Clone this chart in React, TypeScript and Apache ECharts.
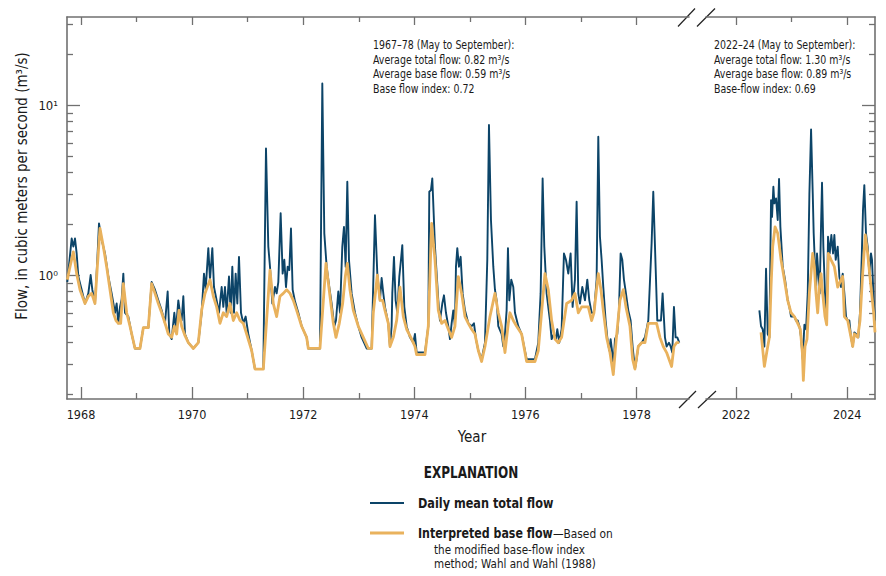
import React, { useEffect, useRef } from "react";
import * as echarts from "echarts";

// ---------------- DATA ----------------
// Daily mean total flow, May–September 1967–78 ([decimal year, m3/s])
const totalFlow1967to78: [number, number][] = [
  [1967.754, 0.91], [1967.832, 1.64], [1967.862, 1.47], [1967.892, 1.64], [1967.922, 1.34], [1967.952, 0.98],
  [1968.012, 0.82], [1968.072, 0.68], [1968.132, 0.78], [1968.174, 1.0], [1968.204, 0.82], [1968.252, 0.68],
  [1968.294, 1.23], [1968.324, 2.01], [1968.372, 1.61], [1968.432, 1.34], [1968.492, 0.98], [1968.552, 0.78],
  [1968.612, 0.6], [1968.642, 0.68], [1968.672, 0.52], [1968.702, 0.65], [1968.732, 0.72], [1968.762, 1.02],
  [1968.792, 0.6], [1968.852, 0.57], [1968.912, 0.45], [1968.972, 0.37], [1969.062, 0.37], [1969.122, 0.49],
  [1969.212, 0.49], [1969.272, 0.91], [1969.332, 0.82], [1969.392, 0.71], [1969.452, 0.62], [1969.512, 0.52],
  [1969.56, 0.8], [1969.59, 0.45], [1969.632, 0.42], [1969.68, 0.6], [1969.71, 0.48], [1969.752, 0.71],
  [1969.782, 0.6], [1969.812, 0.54], [1969.842, 0.75], [1969.872, 0.45], [1969.932, 0.4], [1970.022, 0.37],
  [1970.112, 0.4], [1970.172, 0.6], [1970.214, 1.02], [1970.244, 0.82], [1970.292, 1.44], [1970.322, 0.94],
  [1970.364, 1.44], [1970.394, 0.85], [1970.442, 0.71], [1970.484, 0.6], [1970.532, 0.85], [1970.562, 0.65],
  [1970.592, 0.85], [1970.622, 0.6], [1970.664, 0.98], [1970.694, 0.6], [1970.724, 1.12], [1970.754, 0.6],
  [1970.784, 1.02], [1970.814, 0.68], [1970.844, 1.28], [1970.88, 0.6], [1970.922, 0.52], [1970.964, 0.57],
  [1971.012, 0.45], [1971.072, 0.36], [1971.132, 0.28], [1971.282, 0.28], [1971.33, 5.56], [1971.372, 1.47],
  [1971.402, 1.12], [1971.444, 0.68], [1971.492, 0.85], [1971.522, 0.78], [1971.552, 0.91], [1971.594, 2.31],
  [1971.63, 1.02], [1971.66, 1.23], [1971.69, 0.85], [1971.72, 1.12], [1971.75, 1.07], [1971.78, 1.88],
  [1971.81, 0.82], [1971.852, 0.7], [1971.912, 0.6], [1971.972, 0.5], [1972.062, 0.43], [1972.092, 0.37],
  [1972.302, 0.37], [1972.344, 13.4], [1972.38, 1.76], [1972.422, 1.12], [1972.47, 0.85], [1972.512, 0.68],
  [1972.56, 0.5], [1972.59, 0.54], [1972.632, 0.8], [1972.662, 0.6], [1972.704, 1.47], [1972.734, 1.92],
  [1972.764, 1.12], [1972.794, 3.54], [1972.824, 1.23], [1972.872, 0.78], [1972.932, 0.6], [1972.992, 0.5],
  [1973.052, 0.43], [1973.142, 0.37], [1973.232, 0.37], [1973.292, 2.25], [1973.334, 1.02], [1973.382, 0.71],
  [1973.412, 0.96], [1973.442, 0.78], [1973.472, 0.65], [1973.532, 0.52], [1973.562, 0.38], [1973.592, 0.5],
  [1973.604, 0.78], [1973.634, 1.28], [1973.664, 0.71], [1973.694, 0.6], [1973.73, 0.98], [1973.76, 1.23],
  [1973.784, 1.5], [1973.82, 0.65], [1973.862, 0.5], [1973.922, 0.43], [1973.982, 0.4], [1974.012, 0.45],
  [1974.042, 0.35], [1974.192, 0.35], [1974.252, 0.5], [1974.27, 3.09], [1974.3, 3.16], [1974.324, 3.7],
  [1974.372, 1.47], [1974.432, 0.71], [1974.462, 0.54], [1974.504, 0.68], [1974.534, 0.76], [1974.57, 0.6],
  [1974.612, 0.5], [1974.642, 0.42], [1974.672, 0.52], [1974.702, 0.62], [1974.732, 0.5], [1974.75, 1.12],
  [1974.774, 1.44], [1974.804, 1.12], [1974.834, 1.28], [1974.87, 0.78], [1974.912, 0.62], [1974.972, 0.52],
  [1975.032, 0.5], [1975.074, 0.52], [1975.11, 0.42], [1975.152, 0.36], [1975.212, 0.32], [1975.272, 0.4],
  [1975.314, 1.23], [1975.344, 7.63], [1975.38, 2.11], [1975.422, 1.12], [1975.452, 0.82], [1975.482, 0.71],
  [1975.512, 0.5], [1975.572, 0.45], [1975.602, 0.38], [1975.632, 0.45], [1975.662, 0.62], [1975.686, 1.44],
  [1975.71, 0.71], [1975.746, 0.94], [1975.782, 0.85], [1975.812, 0.6], [1975.872, 0.5], [1975.932, 0.45],
  [1976.022, 0.32], [1976.172, 0.32], [1976.232, 0.4], [1976.274, 0.78], [1976.31, 3.7], [1976.34, 1.47],
  [1976.382, 0.78], [1976.442, 0.54], [1976.472, 0.42], [1976.514, 0.45], [1976.55, 0.42], [1976.574, 0.48],
  [1976.61, 0.4], [1976.652, 0.48], [1976.694, 1.34], [1976.73, 1.23], [1976.772, 1.02], [1976.814, 1.34],
  [1976.85, 0.65], [1976.892, 0.94], [1976.922, 2.7], [1976.952, 0.78], [1976.982, 0.68], [1977.024, 0.85],
  [1977.072, 0.71], [1977.114, 0.94], [1977.15, 0.71], [1977.192, 0.6], [1977.234, 0.6], [1977.282, 0.94],
  [1977.312, 6.51], [1977.342, 1.68], [1977.372, 1.23], [1977.402, 0.85], [1977.444, 0.54], [1977.474, 0.43],
  [1977.51, 0.36], [1977.534, 0.42], [1977.564, 0.35], [1977.582, 0.27], [1977.612, 0.42], [1977.654, 0.45],
  [1977.684, 0.62], [1977.714, 1.34], [1977.744, 1.23], [1977.774, 0.94], [1977.81, 0.78], [1977.852, 0.62],
  [1977.894, 0.54], [1977.93, 0.38], [1977.972, 0.28], [1978.002, 0.32], [1978.032, 0.38], [1978.092, 0.4],
  [1978.152, 0.43], [1978.212, 0.54], [1978.272, 1.54], [1978.302, 3.09], [1978.344, 1.12], [1978.374, 0.54],
  [1978.41, 0.54], [1978.44, 0.54], [1978.47, 0.78], [1978.512, 0.43], [1978.542, 0.38], [1978.584, 0.4],
  [1978.614, 0.38], [1978.644, 0.35], [1978.674, 0.65], [1978.704, 0.43], [1978.734, 0.43], [1978.77, 0.4],
];

// Interpreted base flow, 1967–78
const baseFlow1967to78: [number, number][] = [
  [1967.754, 0.94], [1967.802, 1.12], [1967.862, 1.37], [1967.922, 1.02], [1967.982, 0.82], [1968.072, 0.68],
  [1968.132, 0.75], [1968.192, 0.78], [1968.252, 0.68], [1968.294, 1.12], [1968.342, 1.88], [1968.402, 1.47],
  [1968.462, 1.12], [1968.522, 0.82], [1968.582, 0.6], [1968.63, 0.54], [1968.672, 0.52], [1968.714, 0.52],
  [1968.762, 0.89], [1968.822, 0.6], [1968.882, 0.5], [1968.972, 0.37], [1969.062, 0.37], [1969.122, 0.49],
  [1969.212, 0.49], [1969.272, 0.89], [1969.332, 0.78], [1969.392, 0.68], [1969.452, 0.6], [1969.53, 0.5],
  [1969.572, 0.45], [1969.632, 0.43], [1969.68, 0.5], [1969.722, 0.45], [1969.764, 0.62], [1969.812, 0.5],
  [1969.872, 0.44], [1969.932, 0.4], [1970.022, 0.37], [1970.112, 0.4], [1970.172, 0.62], [1970.232, 0.78],
  [1970.322, 0.94], [1970.382, 0.75], [1970.442, 0.65], [1970.502, 0.52], [1970.562, 0.6], [1970.622, 0.57],
  [1970.682, 0.68], [1970.742, 0.54], [1970.802, 0.6], [1970.862, 0.54], [1970.922, 0.52], [1970.982, 0.45],
  [1971.072, 0.36], [1971.132, 0.28], [1971.282, 0.28], [1971.402, 1.07], [1971.462, 0.68], [1971.522, 0.57],
  [1971.582, 0.75], [1971.642, 0.78], [1971.702, 0.82], [1971.762, 0.78], [1971.822, 0.71], [1971.882, 0.62],
  [1971.972, 0.5], [1972.062, 0.43], [1972.092, 0.37], [1972.302, 0.37], [1972.41, 1.17], [1972.482, 0.75],
  [1972.542, 0.52], [1972.59, 0.43], [1972.65, 0.52], [1972.71, 0.68], [1972.758, 0.98], [1972.794, 1.17],
  [1972.842, 0.82], [1972.902, 0.62], [1972.992, 0.5], [1973.082, 0.43], [1973.172, 0.37], [1973.232, 0.37],
  [1973.262, 0.6], [1973.334, 1.0], [1973.382, 0.71], [1973.43, 0.71], [1973.472, 0.62], [1973.532, 0.52],
  [1973.562, 0.38], [1973.622, 0.43], [1973.682, 0.54], [1973.742, 0.85], [1973.802, 0.57], [1973.862, 0.48],
  [1973.952, 0.42], [1974.012, 0.38], [1974.042, 0.34], [1974.192, 0.34], [1974.252, 0.5], [1974.312, 2.01],
  [1974.372, 1.23], [1974.432, 0.62], [1974.492, 0.52], [1974.552, 0.54], [1974.612, 0.48], [1974.672, 0.43],
  [1974.732, 0.5], [1974.792, 0.98], [1974.852, 0.78], [1974.912, 0.57], [1974.972, 0.52], [1975.032, 0.48],
  [1975.092, 0.45], [1975.152, 0.36], [1975.212, 0.31], [1975.272, 0.38], [1975.362, 0.57], [1975.452, 0.78],
  [1975.512, 0.6], [1975.572, 0.5], [1975.632, 0.35], [1975.692, 0.52], [1975.722, 0.6], [1975.782, 0.54],
  [1975.842, 0.5], [1975.932, 0.45], [1976.022, 0.31], [1976.172, 0.31], [1976.232, 0.36], [1976.352, 1.02],
  [1976.412, 0.82], [1976.472, 0.54], [1976.532, 0.42], [1976.592, 0.4], [1976.652, 0.43], [1976.742, 0.68],
  [1976.832, 0.71], [1976.892, 0.78], [1976.952, 0.6], [1977.012, 0.65], [1977.072, 0.65], [1977.132, 0.65],
  [1977.192, 0.54], [1977.234, 0.6], [1977.312, 1.02], [1977.36, 0.82], [1977.402, 0.62], [1977.462, 0.43],
  [1977.522, 0.35], [1977.582, 0.26], [1977.63, 0.4], [1977.702, 0.71], [1977.762, 0.82], [1977.81, 0.65],
  [1977.882, 0.5], [1977.93, 0.32], [1977.972, 0.28], [1978.032, 0.38], [1978.092, 0.4], [1978.152, 0.4],
  [1978.212, 0.52], [1978.302, 0.52], [1978.362, 0.52], [1978.422, 0.43], [1978.482, 0.38], [1978.542, 0.35],
  [1978.632, 0.29], [1978.674, 0.38], [1978.722, 0.4], [1978.77, 0.4],
];

// Daily mean total flow, 2022–24
const totalFlow2022to24: [number, number][] = [
  [2022.42, 0.62], [2022.45, 0.5], [2022.48, 0.48], [2022.51, 0.38], [2022.54, 1.09], [2022.57, 0.45],
  [2022.6, 0.43], [2022.63, 2.76], [2022.648, 2.2], [2022.672, 3.31], [2022.69, 2.64], [2022.72, 2.82],
  [2022.75, 2.11], [2022.774, 3.67], [2022.798, 1.92], [2022.84, 1.12], [2022.882, 0.94], [2022.93, 0.71],
  [2022.96, 0.65], [2022.99, 0.57], [2023.05, 0.57], [2023.08, 0.54], [2023.11, 0.54], [2023.14, 0.5],
  [2023.17, 0.43], [2023.2, 0.32], [2023.23, 0.51], [2023.26, 0.48], [2023.29, 0.78], [2023.32, 3.02],
  [2023.35, 7.19], [2023.38, 3.02], [2023.397, 1.76], [2023.421, 1.12], [2023.439, 0.78], [2023.457, 1.34],
  [2023.481, 1.02], [2023.505, 0.78], [2023.529, 1.92], [2023.547, 3.49], [2023.571, 1.47], [2023.601, 0.78],
  [2023.631, 0.52], [2023.655, 1.68], [2023.685, 1.34], [2023.715, 1.72], [2023.745, 1.34], [2023.769, 1.72],
  [2023.793, 1.23], [2023.829, 1.47], [2023.859, 0.98], [2023.889, 0.85], [2023.919, 1.02], [2023.949, 0.78],
  [2023.979, 0.57], [2024.009, 0.54], [2024.039, 0.54], [2024.069, 0.43], [2024.099, 0.38], [2024.129, 0.46],
  [2024.159, 0.45], [2024.2, 0.43], [2024.23, 0.6], [2024.26, 1.23], [2024.284, 2.41], [2024.308, 3.38],
  [2024.338, 1.76], [2024.368, 1.47], [2024.398, 1.02], [2024.428, 1.34], [2024.446, 1.23], [2024.476, 0.71],
  [2024.5, 0.54],
];

// Interpreted base flow, 2022–24
const baseFlow2022to24: [number, number][] = [
  [2022.45, 0.46], [2022.51, 0.29], [2022.558, 0.36], [2022.6, 0.43], [2022.63, 0.85], [2022.66, 1.47],
  [2022.702, 1.92], [2022.75, 1.76], [2022.81, 1.23], [2022.87, 0.94], [2022.93, 0.71], [2022.99, 0.6],
  [2023.05, 0.57], [2023.11, 0.52], [2023.157, 0.48], [2023.193, 0.35], [2023.211, 0.24], [2023.241, 0.38],
  [2023.277, 0.42], [2023.319, 0.78], [2023.379, 1.34], [2023.409, 1.12], [2023.439, 0.78], [2023.469, 0.6],
  [2023.499, 0.85], [2023.529, 1.02], [2023.559, 0.78], [2023.601, 0.57], [2023.631, 0.51], [2023.661, 1.34],
  [2023.709, 1.23], [2023.769, 1.12], [2023.829, 0.85], [2023.889, 0.94], [2023.919, 0.98], [2023.949, 0.57],
  [2024.009, 0.54], [2024.069, 0.43], [2024.099, 0.38], [2024.129, 0.45], [2024.189, 0.43], [2024.23, 0.54],
  [2024.278, 1.02], [2024.326, 1.72], [2024.368, 1.34], [2024.428, 0.85], [2024.476, 0.6], [2024.5, 0.46],
];

// Axis ticks / ranges
const yRange = [0.1866, 32.96];
const yMajorTicks = [1, 10];
const yMinorTicks = [0.2, 0.3, 0.4, 0.5, 0.6, 0.7, 0.8, 0.9, 2, 3, 4, 5, 6, 7, 8, 9, 20, 30];
const xRangeEarly = [1967.748, 1978.945];
const xRangeRecent = [2021.46, 2024.5];
const xMajorTicksEarly = [1968, 1970, 1972, 1974, 1976, 1978];
const xMinorTicksEarly = [1969, 1971, 1973, 1975, 1977];
const xMajorTicksRecent = [2022, 2024];
const xMinorTicksRecent = [2023];

const supDigits: Record<string, string> = { "0": "⁰", "1": "¹", "2": "²", "3": "³" };

// ---------------- STYLE ----------------
const FONT = "'Liberation Sans Narrow', 'Arial Narrow', 'DejaVu Sans Condensed', 'Liberation Sans', sans-serif";
const AXIS = "#707070";
const BLUE = "#0c4468";
const ORANGE = "#e9b25d";
const TEXT = "#1a1a1a";

const GRID_TOP = 17;
const GRID_BOTTOM = 399;
const L_LEFT = 67;
const L_RIGHT = 689;
const R_LEFT = 706;
const R_RIGHT = 875;

function makeXAxes(gridIndex: number, range: number[], major: number[], minor: number[]) {
  const base = {
    type: "value" as const,
    gridIndex,
    min: range[0],
    max: range[1],
    splitLine: { show: false },
  };
  const line = { show: true, onZero: false, lineStyle: { color: AXIS, width: 1.6 } };
  const noLine = { show: false, onZero: false };
  return [
    {
      ...base, position: "bottom", axisLine: line,
      axisTick: { show: true, inside: true, length: 12, customValues: major, lineStyle: { color: AXIS, width: 1.3 } },
      axisLabel: { show: true, customValues: major, margin: 9, fontSize: 12.5, fontFamily: FONT, color: TEXT, formatter: (v: number) => String(Math.round(v)) },
    },
    {
      ...base, position: "bottom", axisLine: noLine,
      axisTick: { show: true, inside: true, length: 6, customValues: minor, lineStyle: { color: AXIS, width: 1.3 } },
      axisLabel: { show: false },
    },
    {
      ...base, position: "top", axisLine: line,
      axisTick: { show: true, inside: true, length: 8, customValues: major, lineStyle: { color: AXIS, width: 1.3 } },
      axisLabel: { show: false },
    },
    {
      ...base, position: "top", axisLine: noLine,
      axisTick: { show: true, inside: true, length: 5, customValues: minor, lineStyle: { color: AXIS, width: 1.3 } },
      axisLabel: { show: false },
    },
  ];
}

function makeYAxes(gridIndex: number, position: "left" | "right", labels: boolean) {
  const base = {
    type: "log" as const,
    logBase: 10,
    gridIndex,
    position,
    min: yRange[0],
    max: yRange[1],
    splitLine: { show: false },
  };
  return [
    {
      ...base,
      axisLine: { show: true, onZero: false, lineStyle: { color: AXIS, width: 1.6 } },
      axisTick: { show: true, inside: true, length: 13, customValues: yMajorTicks, lineStyle: { color: AXIS, width: 1.3 } },
      axisLabel: {
        show: labels, customValues: yMajorTicks, margin: 9, fontSize: 13, fontFamily: FONT, color: TEXT,
        formatter: (v: number) => "10" + (supDigits[String(Math.round(Math.log10(v)))] || ""),
      },
    },
    {
      ...base,
      axisLine: { show: false, onZero: false },
      axisTick: { show: true, inside: true, length: 6, customValues: yMinorTicks, lineStyle: { color: AXIS, width: 1.3 } },
      axisLabel: { show: false },
    },
  ];
}

export default function App() {
  const ref = useRef<HTMLDivElement>(null);

  useEffect(() => {
    document.body.style.margin = "0";
    if (!ref.current) return;
    const chart = echarts.init(ref.current, undefined, { renderer: "svg" });

    const lineSeries = (name: string, data: [number, number][], xi: number, yi: number, color: string, width: number, z: number) => ({
      type: "line" as const,
      name,
      data,
      xAxisIndex: xi,
      yAxisIndex: yi,
      showSymbol: false,
      symbol: "none",
      z,
      lineStyle: { color, width, join: "round" },
      itemStyle: { color },
    });

    const txt = (text: string, x: number, y: number, scaleX: number, extra: any = {}) => ({
      type: "text",
      x, y, scaleX,
      style: { text, fontFamily: FONT, fontSize: 12.5, fill: TEXT, textVerticalAlign: "middle", ...extra },
    });

    const slash = (x1: number, y1: number, x2: number, y2: number) => ({
      type: "line",
      shape: { x1, y1, x2, y2 },
      style: { stroke: "#222", lineWidth: 1.2 },
    });

    chart.setOption({
      animation: false,
      backgroundColor: "#ffffff",
      grid: [
        { left: L_LEFT, top: GRID_TOP, width: L_RIGHT - L_LEFT, height: GRID_BOTTOM - GRID_TOP, containLabel: false },
        { left: R_LEFT, top: GRID_TOP, width: R_RIGHT - R_LEFT, height: GRID_BOTTOM - GRID_TOP, containLabel: false },
      ],
      xAxis: [
        ...makeXAxes(0, xRangeEarly, xMajorTicksEarly, xMinorTicksEarly),
        ...makeXAxes(1, xRangeRecent, xMajorTicksRecent, xMinorTicksRecent),
      ],
      yAxis: [...makeYAxes(0, "left", true), ...makeYAxes(1, "right", false)],
      series: [
        lineSeries("Daily mean total flow", totalFlow1967to78, 0, 0, BLUE, 1.9, 2),
        lineSeries("Interpreted base flow", baseFlow1967to78, 0, 0, ORANGE, 2.8, 3),
        lineSeries("Daily mean total flow", totalFlow2022to24, 4, 2, BLUE, 1.9, 2),
        lineSeries("Interpreted base flow", baseFlow2022to24, 4, 2, ORANGE, 2.8, 3),
      ],
      graphic: [
        // axis break marks
        slash(679, 408, 696, 391),
        slash(698, 408, 716, 391),
        slash(678, 26.5, 695, 8.5),
        slash(697, 26.5, 715, 8.5),
        // annotations
        txt("1967–78 (May to September):", 373, 45, 0.84),
        txt("Average total flow: 0.82 m³/s", 373, 59.5, 0.84),
        txt("Average base flow: 0.59 m³/s", 373, 74, 0.84),
        txt("Base flow index: 0.72", 373, 88.5, 0.84),
        txt("2022–24 (May to September):", 714, 45, 0.84),
        txt("Average total flow: 1.30 m³/s", 714, 59.5, 0.84),
        txt("Average base flow: 0.89 m³/s", 714, 74, 0.84),
        txt("Base-flow index: 0.69", 714, 88.5, 0.84),
        // axis titles
        {
          type: "text", x: 22, y: 186, rotation: Math.PI / 2,
          style: { text: "Flow, in cubic meters per second (m³/s)", fontFamily: FONT, fontSize: 15, fill: TEXT, textAlign: "center", textVerticalAlign: "middle" },
        },
        txt("Year", 472, 437, 1, { fontSize: 15, textAlign: "center" }),
        // legend
        txt("EXPLANATION", 471, 473, 0.89, { fontSize: 15, fontWeight: "bold", textAlign: "center" }),
        { type: "line", shape: { x1: 370, y1: 503, x2: 404, y2: 503 }, style: { stroke: BLUE, lineWidth: 2.2 } },
        { type: "line", shape: { x1: 370, y1: 533, x2: 404, y2: 533 }, style: { stroke: ORANGE, lineWidth: 2.8 } },
        txt("Daily mean total flow", 418, 503, 0.93, { fontSize: 13.5, fontWeight: "bold" }),
        {
          type: "text", x: 418, y: 533, scaleX: 0.91,
          style: {
            text: "{b|Interpreted base flow}{r|—Based on}",
            textVerticalAlign: "middle",
            rich: {
              b: { fontFamily: FONT, fontSize: 13.5, fontWeight: "bold", fill: TEXT, color: TEXT },
              r: { fontFamily: FONT, fontSize: 13, fill: TEXT, color: TEXT },
            },
          },
        },
        txt("the modified base-flow index", 434, 550, 0.89, { fontSize: 13 }),
        txt("method; Wahl and Wahl (1988)", 434, 564, 0.89, { fontSize: 13 }),
      ],
    });

    return () => chart.dispose();
  }, []);

  return <div ref={ref} style={{ position: "fixed", left: 0, top: 0, width: 886, height: 576 }} />;
}
